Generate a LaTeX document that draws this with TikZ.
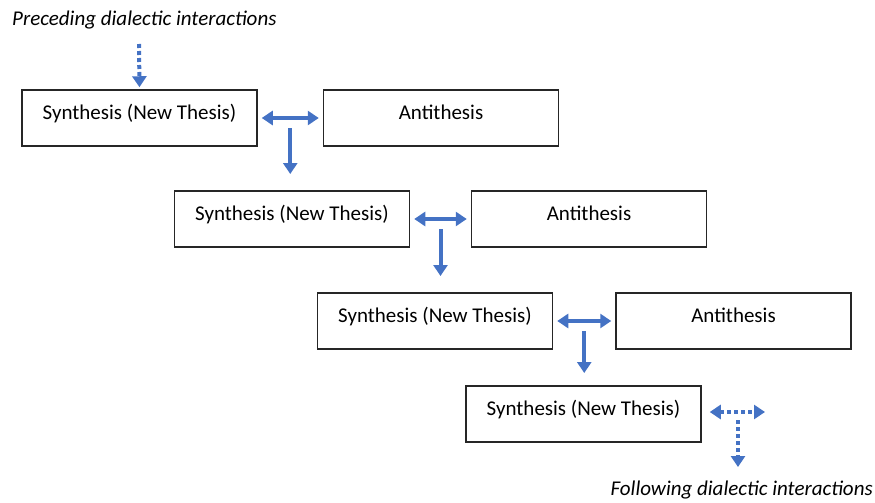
\documentclass[tikz,border=0pt]{standalone}
\usepackage{fontspec}
\setmainfont{Carlito}
\usetikzlibrary{arrows.meta,calc}
\definecolor{flowblue}{HTML}{4472C4}
\definecolor{boxline}{HTML}{262626}
\tikzset{
  stagebox/.style={draw=boxline, line width=1.5pt, minimum width=235pt, minimum height=56pt,
    text height=14pt, text depth=12pt, inner sep=0pt, font=\fontsize{21}{24}\selectfont},
  flow/.style={draw=flowblue, line width=4pt, -{Triangle[width=14pt,length=11pt]}},
  twoway/.style={flow, {Triangle[width=14pt,length=11pt]}-{Triangle[width=14pt,length=11pt]}, shorten <=4pt, shorten >=4pt},
  dotflow/.style={flow, dash pattern=on 4pt off 3pt},
  note/.style={font=\itshape\fontsize{21}{24}\selectfont, inner sep=0pt}
}
\begin{document}
\begin{tikzpicture}[x=1pt,y=-1pt]
\useasboundingbox (0,0) rectangle (875,503);

% dialectic stages
\node[stagebox] (s1) at (139.5,118) {Synthesis (New Thesis)};
\node[stagebox] (a1) at (441,118) {Antithesis};
\node[stagebox] (s2) at (292,219) {Synthesis (New Thesis)};
\node[stagebox] (a2) at (589,219) {Antithesis};
\node[stagebox] (s3) at (435,321) {Synthesis (New Thesis)};
\node[stagebox] (a3) at (733.5,321) {Antithesis};
\node[stagebox] (s4) at (583.5,414) {Synthesis (New Thesis)};

% outer labels
\node[note, anchor=west] (pre) at (12,20) {Preceding dialectic interactions};
\node[note, anchor=east] (post) at (873,490) {Following dialectic interactions};

% incoming interactions
\coordinate (p0) at (139,44);
\draw[dotflow, shorten >=2pt] (p0) -- (s1.north);

% synthesis <-> antithesis, then down to the next synthesis
\draw[twoway] (s1.east) -- (a1.west);
\coordinate (m1) at ($(s1.east)!0.5!(a1.west)$);
\draw[flow] ([yshift=-10pt]m1) -- ++(0,46);

\draw[twoway] (s2.east) -- (a2.west);
\coordinate (m2) at ($(s2.east)!0.5!(a2.west)$);
\draw[flow] ([yshift=-10pt]m2) -- ++(0,47);

\draw[twoway] (s3.east) -- (a3.west);
\coordinate (m3) at ($(s3.east)!0.5!(a3.west)$);
\draw[flow] ([yshift=-10pt]m3) -- ++(0,42);

% outgoing interactions
\coordinate (f1) at (765,412);
\coordinate (f2) at (738,420);
\coordinate (f3) at (738,467);
\draw[dotflow, {Triangle[width=14pt,length=11pt]}-{Triangle[width=14pt,length=11pt]}, shorten <=8pt] (s4.east |- f1) -- (f1);
\draw[dotflow] (f2) -- (f3);
\end{tikzpicture}
\end{document}
